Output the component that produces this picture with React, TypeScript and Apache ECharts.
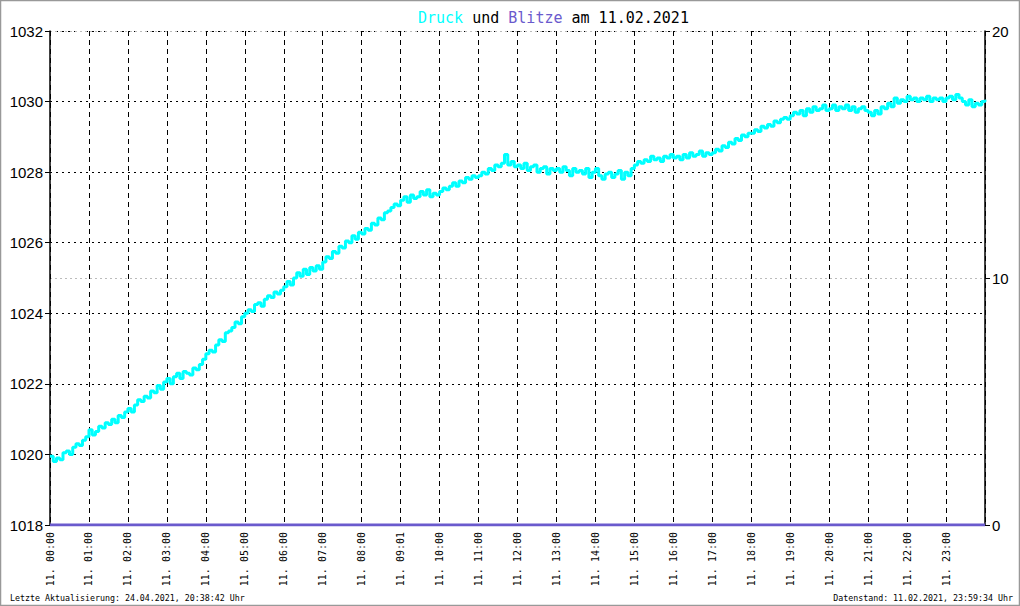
import React, { useEffect, useRef } from "react";
import * as echarts from "echarts";

const title = { druck: "Druck", und: " und ", blitze: "Blitze", rest: " am 11.02.2021" };
const footerLeft = "Letzte Aktualisierung: 24.04.2021, 20:38:42 Uhr";
const footerRight = "Datenstand: 11.02.2021, 23:59:34 Uhr";

const hourLabels = [
  "11. 00:00", "11. 01:00", "11. 02:00", "11. 03:00", "11. 04:00", "11. 05:00",
  "11. 06:00", "11. 07:00", "11. 08:00", "11. 09:01", "11. 10:00", "11. 11:00",
  "11. 12:00", "11. 13:00", "11. 14:00", "11. 15:00", "11. 16:00", "11. 17:00",
  "11. 18:00", "11. 19:00", "11. 20:00", "11. 21:00", "11. 22:00", "11. 23:00",
];

// pressure readings every 5 minutes (hPa), one row per hour
const druck = [
  1019.95, 1019.8, 1019.9, 1019.85, 1020.05, 1020.1, 1020.0, 1020.2, 1020.3, 1020.25, 1020.4, 1020.5,
  1020.7, 1020.55, 1020.65, 1020.8, 1020.75, 1020.9, 1020.85, 1021.0, 1020.9, 1021.1, 1021.05, 1021.2,
  1021.3, 1021.2, 1021.4, 1021.55, 1021.5, 1021.65, 1021.6, 1021.8, 1021.75, 1021.95, 1021.85, 1022.05,
  1022.15, 1022.0, 1022.2, 1022.3, 1022.15, 1022.35, 1022.3, 1022.25, 1022.45, 1022.4, 1022.55, 1022.7,
  1022.85, 1022.95, 1022.9, 1023.1, 1023.25, 1023.2, 1023.45, 1023.5, 1023.6, 1023.75, 1023.7, 1023.9,
  1024.0, 1024.1, 1024.05, 1024.25, 1024.3, 1024.2, 1024.4, 1024.5, 1024.45, 1024.6, 1024.55, 1024.65,
  1024.75, 1024.9, 1024.8, 1025.0, 1025.15, 1025.05, 1025.25, 1025.1, 1025.3, 1025.2, 1025.35, 1025.25,
  1025.45, 1025.6, 1025.55, 1025.75, 1025.7, 1025.9, 1025.85, 1026.05, 1026.0, 1026.2, 1026.1, 1026.3,
  1026.25, 1026.4, 1026.35, 1026.55, 1026.5, 1026.7, 1026.65, 1026.85, 1026.9, 1027.0, 1027.1, 1027.05,
  1027.2, 1027.3, 1027.15, 1027.35, 1027.25, 1027.3, 1027.45, 1027.35, 1027.5, 1027.3, 1027.4, 1027.35,
  1027.45, 1027.55, 1027.5, 1027.6, 1027.7, 1027.6, 1027.75, 1027.7, 1027.85, 1027.8, 1027.9, 1027.85,
  1027.9, 1028.0, 1027.95, 1028.1, 1028.05, 1028.2, 1028.15, 1028.25, 1028.5, 1028.2, 1028.3, 1028.15,
  1028.2, 1028.1, 1028.25, 1028.05, 1028.15, 1028.2, 1028.0, 1028.1, 1028.15, 1027.95, 1028.1, 1028.05,
  1028.1, 1028.0, 1028.15, 1028.05, 1027.9, 1028.1, 1028.0, 1028.05, 1027.95, 1028.1, 1027.85, 1028.0,
  1028.1, 1027.9, 1027.8, 1027.95, 1028.0, 1027.85, 1027.95, 1028.05, 1027.8, 1028.0, 1027.9, 1028.1,
  1028.2, 1028.3, 1028.25, 1028.35, 1028.3, 1028.45, 1028.35, 1028.4, 1028.3, 1028.45, 1028.4, 1028.5,
  1028.4, 1028.45, 1028.35, 1028.5, 1028.4, 1028.55, 1028.45, 1028.5, 1028.6, 1028.45, 1028.55, 1028.5,
  1028.55, 1028.65, 1028.6, 1028.75, 1028.7, 1028.85, 1028.8, 1028.95, 1028.9, 1029.05, 1029.0, 1029.1,
  1029.1, 1029.2, 1029.15, 1029.3, 1029.25, 1029.35, 1029.3, 1029.45, 1029.4, 1029.5, 1029.55, 1029.5,
  1029.6, 1029.7, 1029.65, 1029.75, 1029.6, 1029.8, 1029.7, 1029.85, 1029.75, 1029.8, 1029.9, 1029.75,
  1029.8, 1029.9, 1029.75, 1029.85, 1029.8, 1029.9, 1029.75, 1029.85, 1029.7, 1029.8, 1029.85, 1029.75,
  1029.7, 1029.6, 1029.75, 1029.65, 1029.85, 1029.8, 1029.95, 1029.85, 1030.1, 1029.95, 1030.05, 1030.0,
  1030.15, 1030.05, 1030.1, 1030.0, 1030.1, 1030.05, 1030.15, 1030.0, 1030.1, 1030.05, 1030.1, 1030.0,
  1030.1, 1030.15, 1030.05, 1030.2, 1030.1, 1030.0, 1029.9, 1030.05, 1029.85, 1029.95, 1029.9, 1030.0,
  1030.05,
];
const stepMinutes = 5;

// lightning counts per hour
const blitze = [0, 0, 0, 0, 0, 0, 0, 0, 0, 0, 0, 0, 0, 0, 0, 0, 0, 0, 0, 0, 0, 0, 0, 0, 0];

const leftMin = 1018, leftMax = 1032, leftInterval = 2;
const rightMin = 0, rightMax = 20, rightInterval = 10;

const MONO = "'DejaVu Sans Mono', 'Liberation Mono', monospace";
const SANS = "'Liberation Sans', Arial, sans-serif";

export default function App() {
  const ref = useRef<HTMLDivElement>(null);
  useEffect(() => {
    document.body.style.margin = "0";
    const chart = echarts.init(ref.current!, undefined, { renderer: "svg" });
    const druckData = druck.map((v, i) => [(i * stepMinutes) / 60, v]);
    const blitzData = blitze.map((v, i) => [i, v]);
    chart.setOption({
      animation: false,
      backgroundColor: "#ffffff",
      title: {
        text: `{c|${title.druck}}{k|${title.und}}{b|${title.blitze}}{k|${title.rest}}`,
        left: 413,
        top: 5,
        textStyle: {
          fontWeight: "normal",
          rich: {
            c: { color: "#00ffff", fontFamily: MONO, fontSize: 15, fontWeight: "normal" },
            b: { color: "#6a5acd", fontFamily: MONO, fontSize: 15, fontWeight: "normal" },
            k: { color: "#000000", fontFamily: MONO, fontSize: 15, fontWeight: "normal" },
          },
        },
      },
      grid: { left: 50, right: 35, top: 31, bottom: 81, containLabel: false },
      xAxis: {
        type: "value",
        min: 0,
        max: 24,
        interval: 1,
        axisLine: { show: false },
        axisTick: { show: false },
        axisLabel: {
          rotate: 90,
          margin: 7,
          fontFamily: MONO,
          fontSize: 10,
          color: "#000",
          formatter: (v: number) => (v < 24 ? hourLabels[Math.round(v)] : ""),
        },
        splitLine: { show: true, lineStyle: { color: "#000", type: [5, 4], width: 1 } },
      },
      yAxis: [
        {
          type: "value",
          min: leftMin,
          max: leftMax,
          interval: leftInterval,
          position: "left",
          axisLine: { show: true, lineStyle: { color: "#000", width: 1.5 } },
          axisTick: { show: true, length: 5, lineStyle: { color: "#000" } },
          axisLabel: { fontFamily: SANS, fontSize: 15, color: "#000", margin: 7, formatter: (v: number) => String(v) },
          splitLine: { show: true, lineStyle: { color: "#000", type: [2, 4], width: 1 } },
        },
        {
          type: "value",
          min: rightMin,
          max: rightMax,
          interval: rightInterval,
          position: "right",
          axisLine: { show: true, lineStyle: { color: "#000", width: 1.5 } },
          axisTick: { show: true, length: 5, lineStyle: { color: "#000" } },
          axisLabel: { fontFamily: SANS, fontSize: 15, color: "#000", margin: 7, formatter: (v: number) => String(v) },
          splitLine: { show: true, lineStyle: { color: "#bbbbbb", type: [2, 3], width: 1 } },
        },
      ],
      series: [
        {
          name: "Druck",
          type: "line",
          yAxisIndex: 0,
          data: druckData,
          step: "end",
          showSymbol: false,
          lineStyle: { color: "#00ffff", width: 3 },
          z: 3,
        },
        {
          name: "Blitze",
          type: "line",
          yAxisIndex: 1,
          data: blitzData,
          showSymbol: false,
          lineStyle: { color: "#6a5acd", width: 3 },
          z: 4,
        },
      ],
      graphic: [
        {
          type: "rect",
          shape: { x: 0.5, y: 0.5, width: 1019, height: 605 },
          style: { fill: "none", stroke: "#999", lineWidth: 1.5 },
          silent: true,
        },
        {
          type: "text",
          left: 10,
          top: 594,
          style: { text: footerLeft, fontFamily: MONO, fontSize: 8.3, fill: "#000" },
        },
        {
          type: "text",
          right: 7,
          top: 594,
          style: { text: footerRight, fontFamily: MONO, fontSize: 8.3, fill: "#000" },
        },
      ],
    });
    return () => chart.dispose();
  }, []);
  return <div ref={ref} style={{ width: 1020, height: 606 }} />;
}
